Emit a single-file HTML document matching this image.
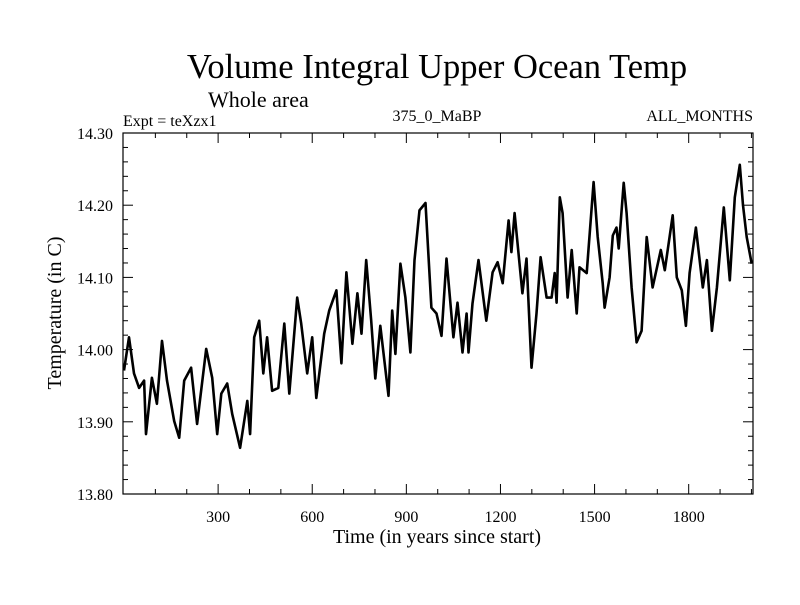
<!DOCTYPE html>
<html><head><meta charset="utf-8"><style>
body{margin:0;background:#fff}
svg text{font-family:"Liberation Serif",serif;fill:#000}
</style></head><body>
<svg id="chart" width="800" height="600">
<text x="437" y="78" text-anchor="middle" font-size="34.5">Volume Integral Upper Ocean Temp</text>
<text x="208" y="107" font-size="22">Whole area</text>
<text x="123" y="126" font-size="16">Expt = teXzx1</text>
<text x="437" y="121" text-anchor="middle" font-size="16">375_0_MaBP</text>
<text x="753" y="121" text-anchor="end" font-size="16">ALL_MONTHS</text>
<text x="437" y="543" text-anchor="middle" font-size="20">Time (in years since start)</text>
<text transform="translate(61,313) rotate(-90)" text-anchor="middle" font-size="20">Temperature (in C)</text>
<g id="axes"></g>
<path id="series" fill="none" stroke="#000" stroke-width="2.6" stroke-linejoin="round"/>
<rect x="123" y="133" width="630" height="361" fill="none" stroke="#000" stroke-width="1.2"/>
</svg>
<script>
const years=[0,16,32,48,64,70,89,105,121,137,160,176,192,214,233,262,281,297,310,329,345,370,393,402,415,431,444,456,472,492,511,527,552,565,584,600,613,638,654,677,693,709,728,744,757,772,788,801,817,843,855,865,881,897,913,926,942,961,980,996,1012,1028,1050,1063,1079,1092,1098,1111,1130,1155,1175,1191,1207,1226,1235,1245,1270,1283,1299,1315,1328,1347,1363,1373,1379,1389,1398,1414,1427,1443,1452,1475,1497,1510,1526,1532,1548,1558,1570,1577,1593,1602,1618,1634,1650,1666,1685,1711,1724,1749,1762,1778,1791,1803,1823,1845,1858,1874,1890,1912,1931,1947,1963,1973,1985,2001];
const temps=[13.971,14.017,13.967,13.947,13.957,13.883,13.961,13.925,14.012,13.957,13.901,13.878,13.957,13.975,13.897,14.001,13.961,13.883,13.939,13.953,13.911,13.864,13.929,13.883,14.017,14.040,13.967,14.017,13.943,13.947,14.036,13.939,14.072,14.036,13.967,14.017,13.933,14.022,14.054,14.082,13.981,14.107,14.008,14.078,14.022,14.124,14.040,13.960,14.033,13.936,14.054,13.994,14.119,14.072,13.996,14.124,14.193,14.203,14.058,14.050,14.019,14.126,14.017,14.065,13.996,14.050,13.996,14.064,14.124,14.040,14.107,14.121,14.092,14.179,14.135,14.189,14.078,14.126,13.975,14.050,14.128,14.072,14.072,14.106,14.065,14.211,14.189,14.072,14.138,14.050,14.114,14.106,14.232,14.156,14.092,14.058,14.100,14.158,14.169,14.140,14.231,14.189,14.086,14.010,14.026,14.156,14.086,14.138,14.110,14.186,14.100,14.082,14.033,14.106,14.169,14.086,14.124,14.026,14.086,14.197,14.096,14.211,14.256,14.200,14.156,14.119];
const yTicks=[13.80,13.90,14.00,14.10,14.20,14.30];
const xTicks=[300,600,900,1200,1500,1800];
const X0=124,X1=753,Y0=494,Y1=133;
const xs=v=>X0+(v-0)/(2005-0)*(X1-X0);
const ys=v=>Y0-(v-13.80)/(14.30-13.80)*(Y0-Y1);
const NS='http://www.w3.org/2000/svg';
const g=document.getElementById('axes');
function ln(x1,y1,x2,y2,name){const l=document.createElementNS(NS,'line');l.setAttribute('x1',x1);l.setAttribute('y1',y1);l.setAttribute('x2',x2);l.setAttribute('y2',y2);l.setAttribute('stroke','#000');l.setAttribute('stroke-width','1');


g.appendChild(l);}
function tx(x,y,s,anchor,name){const t=document.createElementNS(NS,'text');t.setAttribute('x',x);t.setAttribute('y',y);t.setAttribute('font-size','16');t.setAttribute('text-anchor',anchor);t.textContent=s;


g.appendChild(t);}
for(let v=13.80;v<=14.301;v+=0.02){const y=ys(v);const maj=Math.abs(Math.round(v*10)/10-v)<0.001;const L=maj?10:5;ln(123,y,123+L,y,'y-tick');ln(753,y,753-L,y,'y-tick-right');}
yTicks.forEach(v=>tx(113,ys(v)+6,v.toFixed(2),'end','y-tick-label'));
for(let v=100;v<2005;v+=100){const x=xs(v);const maj=v%300===0;const L=maj?10:5;ln(x,494,x,494-L,'x-tick');ln(x,133,x,133+L,'x-tick-top');}
xTicks.forEach(v=>tx(xs(v),522,String(v),'middle','x-tick-label'));
let d='';years.forEach((yr,i)=>{d+=(i?'L':'M')+xs(yr).toFixed(1)+','+ys(temps[i]).toFixed(1);});
document.getElementById('series').setAttribute('d',d);
</script>
</body></html>
